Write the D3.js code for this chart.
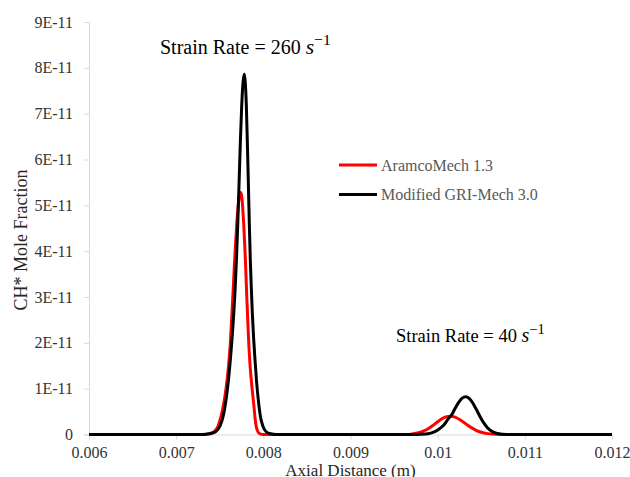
<!DOCTYPE html>
<html>
<head>
<meta charset="utf-8">
<script src="https://cdn.jsdelivr.net/npm/d3@7/dist/d3.min.js"></script>
<style>
  html, body { margin: 0; padding: 0; background: #fff; }
  svg { display: block; }
</style>
</head>
<body>
<div id="chart"></div>
<script>
// ---- data (x in m, y in units of 1E-11 mole fraction) ----
const xTicks = [0.006, 0.007, 0.008, 0.009, 0.010, 0.011, 0.012];
const xTickLabels = ["0.006", "0.007", "0.008", "0.009", "0.01", "0.011", "0.012"];
const yTicks = [0, 1, 2, 3, 4, 5, 6, 7, 8, 9];
const yTickLabels = ["0", "1E-11", "2E-11", "3E-11", "4E-11", "5E-11", "6E-11", "7E-11", "8E-11", "9E-11"];
const seriesNames = ["AramcoMech 1.3", "Modified GRI-Mech 3.0"];
const seriesColors = ["#ff0000", "#000000"];

// AramcoMech 1.3 (red)
const aramcoX = [0.006, 0.0073, 0.00738, 0.00744, 0.00748, 0.00751, 0.00754, 0.00756, 0.00758, 0.0076,
  0.00762, 0.007635, 0.00765, 0.007665, 0.00768, 0.007695, 0.00771, 0.007725, 0.00774,
  0.007752, 0.007763, 0.007775, 0.007787, 0.007799, 0.00781, 0.007822, 0.007834, 0.007849, 0.007865,
  0.00788, 0.007892, 0.007905, 0.007918, 0.007935, 0.007955, 0.00799, 0.0081,
  0.009541, 0.009621, 0.009711, 0.009781, 0.009841, 0.009891, 0.009941, 0.009981, 0.010021, 0.010061,
  0.010101, 0.010141, 0.010181, 0.010221, 0.010261, 0.010301, 0.010341, 0.010391, 0.010441, 0.010501,
  0.010571, 0.010661, 0.010761, 0.012];
const aramcoY = [0, 0, 0.02, 0.07, 0.18, 0.36, 0.62, 0.84, 1.12, 1.48,
  1.95, 2.46, 3.01, 3.58, 4.12, 4.59, 4.96, 5.20, 5.28,
  5.20, 4.96, 4.59, 4.12, 3.58, 3.01, 2.46, 1.95, 1.48, 1.12,
  0.84, 0.62, 0.36, 0.18, 0.07, 0.02, 0, 0,
  0, 0.001, 0.013, 0.037, 0.077, 0.127, 0.192, 0.25, 0.307, 0.356,
  0.388, 0.40, 0.39, 0.36, 0.316, 0.263, 0.208, 0.144, 0.092, 0.048,
  0.019, 0.005, 0, 0];

// Modified GRI-Mech 3.0 (black)
const griX = [0.006, 0.00722, 0.007302, 0.007382, 0.007452, 0.007502, 0.007542, 0.007572, 0.007597,
  0.007622, 0.007642, 0.007662, 0.007677, 0.007692, 0.007707, 0.007722, 0.007737, 0.007752, 0.007767,
  0.007782,
  0.007793, 0.007805, 0.007816, 0.007828, 0.007839, 0.00785, 0.007862, 0.007873, 0.007888, 0.007904,
  0.007923, 0.007942, 0.007964, 0.007995, 0.008033, 0.008086, 0.008147, 0.00822,
  0.009721, 0.009801, 0.009891, 0.009961, 0.010021, 0.010071, 0.010121, 0.010161, 0.010201, 0.010241,
  0.010281, 0.010321, 0.010361, 0.010401, 0.010441, 0.010481, 0.010521, 0.010571, 0.010621, 0.010681,
  0.010751, 0.010821, 0.012];
const griY = [0, 0, 0, 0.015, 0.06, 0.18, 0.42, 0.76, 1.14,
  1.64, 2.12, 2.68, 3.20, 3.84, 4.62, 5.50, 6.42, 7.18, 7.68,
  7.86,
  7.68, 7.18, 6.42, 5.50, 4.62, 3.84, 3.20, 2.68, 2.12, 1.64,
  1.14, 0.76, 0.42, 0.18, 0.06, 0.015, 0, 0,
  0, 0.004, 0.018, 0.055, 0.127, 0.206, 0.34, 0.43, 0.572, 0.70,
  0.792, 0.825, 0.79, 0.692, 0.556, 0.409, 0.275, 0.149, 0.07, 0.0235,
  0.006, 0, 0];

const annotations = [
  { x: 160, y: 54, size: 20, main: "Strain Rate = 260 ", v: "s", sup: "\u22121" },
  { x: 396, y: 342, size: 18.5, main: "Strain Rate = 40 ", v: "s", sup: "\u22121" }
];

// ---- layout ----
const W = 630, H = 477;
const plotLeft = 89, plotRight = 612, plotTop = 22, plotBottom = 434.5;
const FONT = "'Liberation Serif', 'Times New Roman', serif";

const svg = d3.select("#chart").append("svg")
  .attr("width", W).attr("height", H)
  .style("font-family", FONT);

const x = d3.scaleLinear().domain([0.006, 0.012]).range([plotLeft, plotRight]);
const y = d3.scaleLinear().domain([0, 9]).range([plotBottom, plotTop]);

// y axis
const yAxis = svg.append("g").attr("transform", `translate(${plotLeft},0)`)
  .call(d3.axisLeft(y).tickValues(yTicks).tickSize(5).tickPadding(11)
    .tickFormat((d, i) => yTickLabels[i]));
yAxis.select(".domain").attr("stroke", "#d9d9d9").attr("stroke-width", 1);
yAxis.selectAll(".tick line").attr("stroke", "#d9d9d9");
yAxis.selectAll(".tick text").attr("fill", "#333").style("font-size", "16px").style("font-family", FONT);

// x axis
const xAxis = svg.append("g").attr("transform", `translate(0,${plotBottom})`)
  .call(d3.axisBottom(x).tickValues(xTicks).tickSize(5).tickPadding(7)
    .tickFormat((d, i) => xTickLabels[i]));
xAxis.select(".domain").attr("stroke", "#d9d9d9").attr("stroke-width", 1);
xAxis.selectAll(".tick line").attr("stroke", "#d9d9d9");
xAxis.selectAll(".tick text").attr("fill", "#333").style("font-size", "16px").style("font-family", FONT);

// axis titles
svg.append("text")
  .attr("x", (plotLeft + plotRight) / 2).attr("y", 475.5)
  .attr("text-anchor", "middle").attr("fill", "#262626")
  .style("font-size", "17px").text("Axial Distance (m)");
svg.append("text")
  .attr("transform", `translate(27,${240}) rotate(-90)`)
  .attr("text-anchor", "middle").attr("fill", "#262626")
  .style("font-size", "18px").text("CH* Mole Fraction");

// lines
const line = d3.line().x(d => x(d[0])).y(d => y(d[1])).curve(d3.curveMonotoneX);
const series = [
  d3.zip(aramcoX, aramcoY),
  d3.zip(griX, griY)
];
series.forEach((s, i) => {
  svg.append("path").datum(s)
    .attr("d", line)
    .attr("fill", "none")
    .attr("stroke", seriesColors[i])
    .attr("stroke-width", 3)
    .attr("stroke-linejoin", "round");
});

// legend
const legend = svg.append("g");
seriesNames.forEach((name, i) => {
  const ly = 165 + i * 29.5;
  legend.append("line").attr("x1", 339).attr("x2", 377).attr("y1", ly).attr("y2", ly)
    .attr("stroke", seriesColors[i]).attr("stroke-width", 3);
  legend.append("text").attr("x", 381).attr("y", ly + 5.5)
    .attr("fill", "#595959").style("font-size", "16px").text(name);
});

// annotations
annotations.forEach(a => {
  const t = svg.append("text").attr("x", a.x).attr("y", a.y)
    .attr("fill", "#000").style("font-size", a.size + "px");
  t.append("tspan").text(a.main);
  t.append("tspan").style("font-style", "italic").style("font-size", (a.size * 1.08) + "px").text(a.v);
  t.append("tspan").attr("dy", -a.size * 0.45).style("font-size", (a.size * 0.78) + "px").text(a.sup);
});
</script>
</body>
</html>
